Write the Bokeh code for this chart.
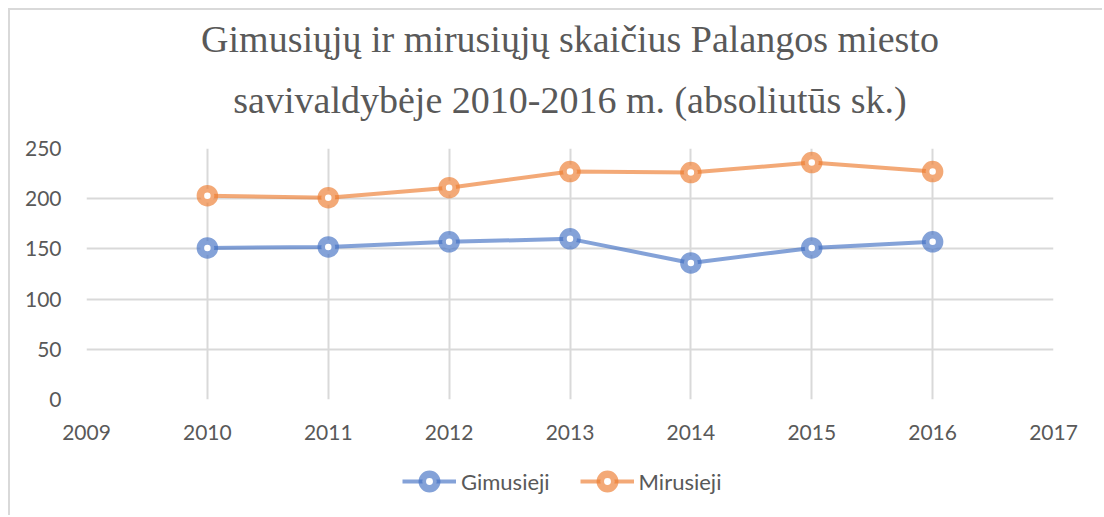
from bokeh.plotting import figure
from bokeh.layouts import column
from bokeh.models import FixedTicker, Legend, LegendItem, ColumnDataSource, Title
from bokeh.embed import file_html
from bokeh.resources import INLINE

years = [2010, 2011, 2012, 2013, 2014, 2015, 2016]
gimusieji = [151, 152, 157, 160, 136, 151, 157]
mirusieji = [203, 201, 211, 227, 226, 236, 227]
x_ticks = [2009, 2010, 2011, 2012, 2013, 2014, 2015, 2016, 2017]
y_ticks = [0, 50, 100, 150, 200, 250]
title_lines = ["Gimusiųjų ir mirusiųjų skaičius Palangos miesto",
               "savivaldybėje 2010-2016 m. (absoliutūs sk.)"]
series_names = ["Gimusieji", "Mirusieji"]

BLUE = "#4472C4"
ORANGE = "#ED7D31"
GRID = "#D9D9D9"
TXT = "#595959"
ALPHA = 0.66

p = figure(width=1094, height=445, output_backend="svg", toolbar_location=None,
           x_range=(2009, 2017), y_range=(0, 250),
           min_border_left=76, min_border_right=51, min_border_top=138, min_border_bottom=56)
p.margin = (8, 0, 0, 8)
p.styles = {"border-top": "2px solid #D9D9D9", "border-left": "2px solid #D9D9D9"}
p.outline_line_color = None
p.background_fill_color = "white"
p.border_fill_color = "white"

p.xaxis.ticker = FixedTicker(ticks=x_ticks)
p.yaxis.ticker = FixedTicker(ticks=y_ticks)
for ax in (p.xaxis[0], p.yaxis[0]):
    ax.axis_line_color = None
    ax.major_tick_line_color = None
    ax.minor_tick_line_color = None
    ax.major_label_text_font = "Lato"
    ax.major_label_text_font_size = "21px"
    ax.major_label_text_color = TXT
p.xaxis.major_label_standoff = 19
p.yaxis.major_label_standoff = 19
p.xgrid.ticker = FixedTicker(ticks=x_ticks)
p.ygrid.ticker = FixedTicker(ticks=y_ticks)
for g in (p.xgrid[0], p.ygrid[0]):
    g.grid_line_color = GRID
    g.grid_line_width = 2

# title: second line nearest the frame, then first line above it
for txt, so in zip(reversed(title_lines), [55, -20]):
    p.add_layout(Title(text=txt, align="center", standoff=so,
                       text_font="Liberation Serif", text_font_size="38px",
                       text_font_style="normal", text_color=TXT), "above")

# legend lives in a thin strip below the chart
p2 = figure(width=1094, height=62, output_backend="svg", toolbar_location=None,
            x_range=(0, 1), y_range=(0, 1), x_axis_location=None, y_axis_location=None,
            min_border=0)
p2.margin = (0, 0, 0, 8)
p2.styles = {"border-left": "2px solid #D9D9D9"}
p2.outline_line_color = None
p2.grid.visible = False

items = []
for name, vals, col in zip(series_names, [gimusieji, mirusieji], [BLUE, ORANGE]):
    src = ColumnDataSource(dict(x=years, y=vals))
    p.line("x", "y", source=src, line_color=col, line_alpha=ALPHA, line_width=4)
    p.scatter("x", "y", source=src, marker="circle", size=14,
              fill_color="white", line_color=col, line_alpha=ALPHA, line_width=7.5)
    ln2 = p2.line("x", "y", source=src, line_color=col, line_alpha=ALPHA, line_width=4)
    sc2 = p2.scatter("x", "y", source=src, marker="circle", size=14,
                     fill_color="white", line_color=col, line_alpha=ALPHA, line_width=7.5)
    items.append(LegendItem(label=name, renderers=[ln2, sc2]))

legend = Legend(items=items, orientation="horizontal", location=(316, 16),
                glyph_width=54, glyph_height=36, label_standoff=5, spacing=30,
                padding=0, margin=0, border_line_color=None, background_fill_alpha=0,
                label_text_font="Lato", label_text_font_size="22px", label_text_color=TXT)
p2.add_layout(legend, "center")

layout = column(p, p2, spacing=0)
open("out.html", "w").write(file_html(layout, INLINE))
